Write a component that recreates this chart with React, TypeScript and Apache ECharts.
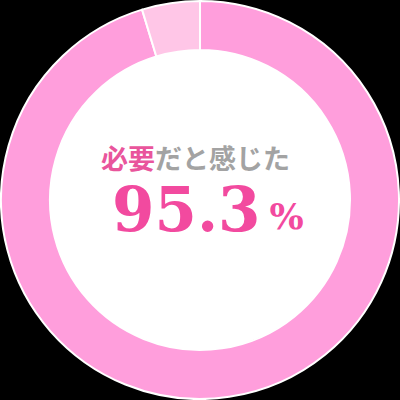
import React, { useEffect, useRef } from "react";
import * as echarts from "echarts";

const categories = ["必要だと感じた", "その他"];
const values = [95.3, 4.7];
const colors = ["#FF9EDC", "#FFC6E7"];
const headlineA = "必要";
const headlineB = "だと感じた";
const valueLabel = "95.3";
const unitLabel = "%";

export default function App() {
  const ref = useRef<HTMLDivElement>(null);
  useEffect(() => {
    document.body.style.margin = "0";
    document.body.style.background = "#000";
    const chart = echarts.init(ref.current!, null, { renderer: "svg" });
    chart.setOption({
      animation: false,
      backgroundColor: "#000",
      series: [
        {
          type: "pie",
          silent: true,
          radius: [0, "75%"],
          center: ["50%", "50%"],
          label: { show: false },
          itemStyle: { color: "#fff" },
          data: [{ value: 1, name: "center" }],
        },
        {
          type: "pie",
          silent: true,
          radius: ["75%", "99.5%"],
          center: ["50%", "50%"],
          startAngle: 90,
          clockwise: true,
          label: { show: false },
          labelLine: { show: false },
          itemStyle: { borderColor: "#fff", borderWidth: 2 },
          data: categories.map((c, i) => ({
            name: c,
            value: values[i],
            itemStyle: { color: colors[i] },
          })),
        },
      ],
      graphic: [
        {
          type: "text",
          z: 100,
          left: 101,
          top: 144,
          style: {
            text: `{a|${headlineA}}{b|${headlineB}}`,
            rich: {
              a: {
                fontSize: 27,
                fontWeight: "bold",
                fontFamily: "Noto Sans CJK JP",
                fill: "#E9559C",
              },
              b: {
                fontSize: 27,
                fontWeight: "bold",
                fontFamily: "Noto Sans CJK JP",
                fill: "#A3A3A3",
              },
            },
          },
        },
        {
          type: "text",
          z: 100,
          left: 112,
          top: 179,
          style: {
            text: `{v|${valueLabel}}{u|${unitLabel}}`,
            rich: {
              v: {
                fontSize: 61,
                fontWeight: "bold",
                fontFamily: "DejaVu Serif",
                fill: "#F24A9F",
                verticalAlign: "bottom",
              },
              u: {
                fontSize: 36,
                fontWeight: "bold",
                fontFamily: "DejaVu Serif",
                fill: "#F24A9F",
                verticalAlign: "bottom",
                padding: [0, 0, 6, 9],
              },
            },
          },
        },
      ],
    });
    return () => chart.dispose();
  }, []);
  return (
    <div
      ref={ref}
      style={{ width: 400, height: 400, position: "fixed", left: 0, top: 0 }}
    />
  );
}
